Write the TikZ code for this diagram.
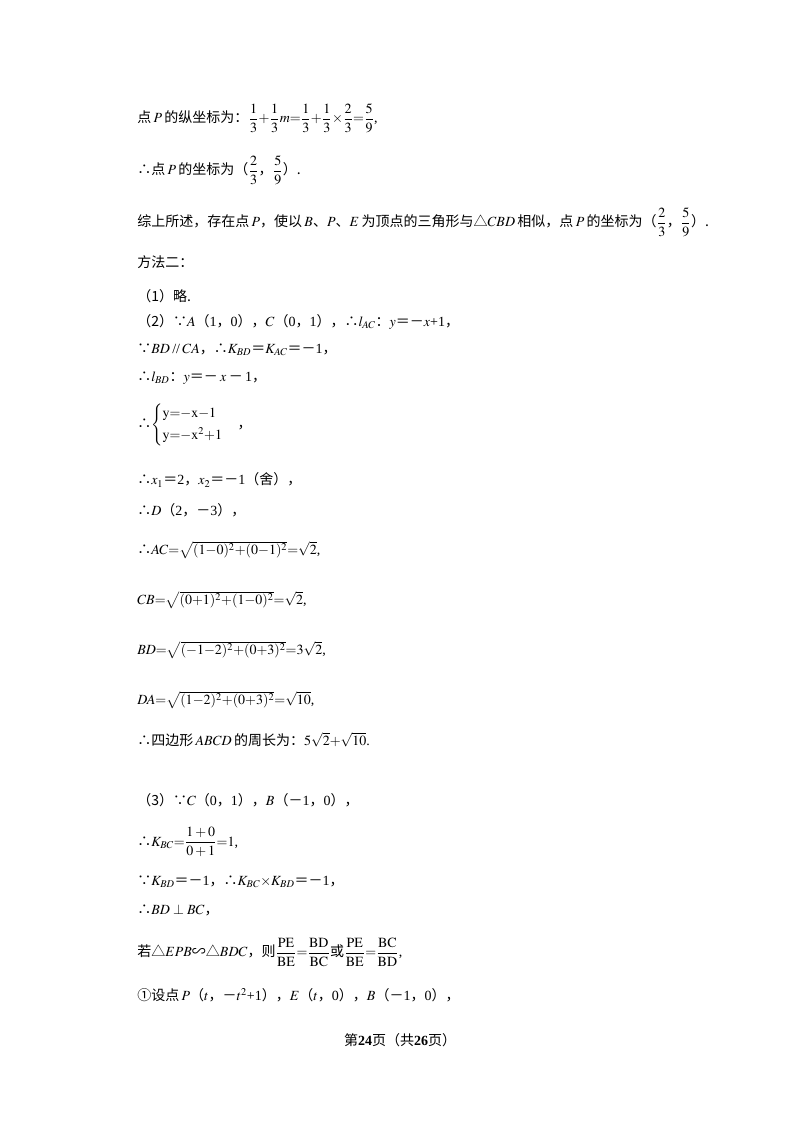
\documentclass[tikz,border=0pt]{standalone}
\usepackage{amsmath,amssymb}
\usepackage{mathptmx}
\usepackage{fontspec}
\setmainfont{Liberation Serif}
\newfontfamily\cjk{Noto Sans CJK SC}
\newcommand{\zh}[1]{{\cjk #1}}
\begin{document}
\begin{tikzpicture}[x=0.75pt,y=-0.75pt,
  ln/.style={anchor=west,inner sep=0pt,font=\fontsize{10.5}{12}\selectfont}]
\useasboundingbox[fill=white] (0,0) rectangle (800,1132);
\node[ln] (l1) at (137,118) {\zh{点}\,$P$\,\zh{的纵坐标为：}$\dfrac{1}{3}{+}\dfrac{1}{3}m{=}\dfrac{1}{3}{+}\dfrac{1}{3}{\times}\dfrac{2}{3}{=}\dfrac{5}{9}$,};
\node[ln] (l2) at (137,170) {\zh{∴点}\,$P$\,\zh{的坐标为（}$\dfrac{2}{3}$\zh{，}$\dfrac{5}{9}$\zh{）.}};
\node[ln] (l3) at (137,222) {\zh{综上所述，存在点}\,$P$\zh{，使以}\,$B$\zh{、}$P$\zh{、}$E$\,\zh{为顶点的三角形与△}$CBD$\,\zh{相似，点}\,$P$\,\zh{的坐标为（}$\dfrac{2}{3}$\zh{，}$\dfrac{5}{9}$\zh{）.}};
\node[ln] (l4) at (137,262) {\zh{方法二：}};
\node[ln] (l5) at (137,296) {\zh{（1）略.}};
\node[ln] (l6) at (137,322) {\zh{（2）∵}$A$\zh{（}1\zh{，}0\zh{），}$C$\zh{（}0\zh{，}1\zh{），∴}$l_{AC}$\zh{：}$y$\zh{＝－}$x$+1\zh{，}};
\node[ln] (l7) at (137,350) {\zh{∵}$BD$\,//\,$CA$\zh{，∴}$K_{BD}$\zh{＝}$K_{AC}$\zh{＝－}1\zh{，}};
\node[ln] (l8) at (137,378) {\zh{∴}$l_{BD}$\zh{：}$y$\zh{＝－}\,$x$\,\zh{－}\,1\zh{，}};
\node[ln] (l9) at (137,425) {\zh{∴}$\begin{cases}\mathrm{y{=}{-}x{-}1}\\[2pt]\mathrm{y{=}{-}x^2{+}1}\end{cases}$\zh{，}};
\node[ln] (l10) at (137,480) {\zh{∴}$x_1$\zh{＝}2\zh{，}$x_2$\zh{＝－}1\zh{（舍），}};
\node[ln] (l11) at (137,510) {\zh{∴}$D$\zh{（}2\zh{，－}3\zh{），}};
\node[ln] (l12) at (137,550) {\zh{∴}$AC{=}\sqrt{\mathrm{(1{-}0)^2{+}(0{-}1)^2}}{=}\sqrt{2}$,};
\node[ln] (l13) at (137,600) {$CB{=}\sqrt{\mathrm{(0{+}1)^2{+}(1{-}0)^2}}{=}\sqrt{2}$,};
\node[ln] (l14) at (137,650) {$BD{=}\sqrt{\mathrm{({-}1{-}2)^2{+}(0{+}3)^2}}{=}3\sqrt{2}$,};
\node[ln] (l15) at (137,700) {$DA{=}\sqrt{\mathrm{(1{-}2)^2{+}(0{+}3)^2}}{=}\sqrt{10}$,};
\node[ln] (l16) at (137,740) {\zh{∴四边形}\,$ABCD$\,\zh{的周长为：}$5\sqrt{2}{+}\sqrt{10}$.};
\node[ln] (l17) at (137,800) {\zh{（3）∵}$C$\zh{（}0\zh{，}1\zh{），}$B$\zh{（－}1\zh{，}0\zh{），}};
\node[ln] (l18) at (137,842) {\zh{∴}$K_{BC}{=}\dfrac{1+0}{0+1}{=}1$,};
\node[ln] (l19) at (137,882) {\zh{∵}$K_{BD}$\zh{＝－}1\zh{，∴}$K_{BC}{\times}K_{BD}$\zh{＝－}1\zh{，}};
\node[ln] (l20) at (137,910) {\zh{∴}$BD\perp BC$\zh{，}};
\node[ln] (l21) at (137,952) {\zh{若△}$EPB$\zh{∽△}$BDC$\zh{，则}$\dfrac{\mathrm{PE}}{\mathrm{BE}}{=}\dfrac{\mathrm{BD}}{\mathrm{BC}}$\zh{或}$\dfrac{\mathrm{PE}}{\mathrm{BE}}{=}\dfrac{\mathrm{BC}}{\mathrm{BD}}$,};
\node[ln] (l22) at (137,995) {\zh{①设点}\,$P$\zh{（}$t$\zh{，－}$t^2$+1\zh{），}$E$\zh{（}$t$\zh{，}0\zh{），}$B$\zh{（－}1\zh{，}0\zh{），}};
\node[ln,anchor=center] (ft) at (400,1040) {\zh{第}\textbf{24}\zh{页（共}\textbf{26}\zh{页）}};
\end{tikzpicture}
\end{document}
